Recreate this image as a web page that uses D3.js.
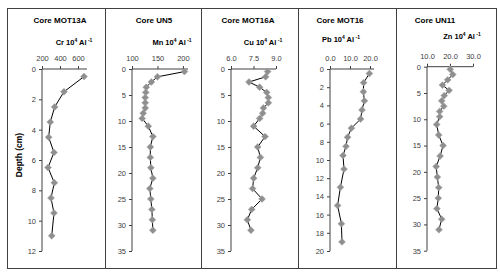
<!DOCTYPE html>
<html><head><meta charset="utf-8">
<script src="https://cdn.jsdelivr.net/npm/d3@7"></script>
<style>
body{margin:0;background:#fff}
svg{display:block}
text{font-family:"Liberation Sans",Arial,sans-serif}
</style>
</head><body>
<svg id="c" width="500" height="275"></svg>
<script>
// ---- data ----
const coreNames = ["Core MOT13A","Core UN5","Core MOT16A","Core MOT16","Core UN11"];
const elements = ["Cr","Mn","Cu","Pb","Zn"];

const crDepth = [0.5,1.5,2.5,3.5,4.5,5.5,6.5,7.5,8.5,9.5,11];
const crValues = [667,444,341,292,274,333,267,337,300,333,308];

const mnDepth = [0.5,1.5,2.5,3.5,4.5,5.5,6.5,7.5,8.5,9.5,11,13,15,17,19,21,23,25,27,29,31];
const mnValues = [203,150,138,128,127,126,126,126,122,120,132,141,136,136,137,141,135,137,139,140,141];

const cuDepth = [0.5,1.5,2.5,3.5,4.5,5.5,6.5,7.5,8.5,9.5,11,13,15,17,19,21,23,25,27,29,31];
const cuValues = [8.44,8.31,7.2,7.91,8.38,8.49,8.49,8.16,8.11,7.91,7.51,8.27,7.78,7.96,7.78,7.51,7.44,8.07,7.38,7.09,7.33];

const pbDepth = [0.5,1.5,2.5,3.5,4.5,5.5,6.5,7.5,8.5,9.5,11,13,15,17,19];
const pbValues = [19.7,16.8,16.7,17.2,16.0,15.3,10.7,8.8,8.0,6.5,7.0,5.2,3.8,5.7,6.0];

const znDepth = [0.5,1.5,2.5,3.5,4.5,5.5,6.5,7.5,8.5,9.5,11,13,15,17,19,21,23,25,27,29,31];
const znValues = [20.1,21.2,19.0,16.7,19.6,17.5,16.4,17.3,15.5,15.5,14.2,15.1,17.0,15.7,14.0,14.5,15.1,14.9,14.3,16.4,15.2];

const crTicks = [200,400,600];
const mnTicks = [100,150,200];
const cuTicks = [6.0,7.5,9.0];
const pbTicks = [0,10,20];
const znTicks = [10,20,30];

const depthTicks12 = [0,2,4,6,8,10,12];
const depthTicks20 = [0,2,4,6,8,10,12,14,16,18,20];
const depthTicks35 = [0,5,10,15,20,25,30,35];

// ---- layout ----
const panels = [
  {name:coreNames[0], el:elements[0], depth:crDepth, vals:crValues, xt:crTicks, xd:[200,700], fmt:d3.format("d"),
   yt:depthTicks12, xr:[42,87], yr:[69,251], tY:22.5, aY:44.5, aX:74, depthTitle:true},
  {name:coreNames[1], el:elements[1], depth:mnDepth, vals:mnValues, xt:mnTicks, xd:[100,210], fmt:d3.format("d"),
   yt:depthTicks35, xr:[132,188], yr:[69,251], tY:22.5, aY:44.5, aX:172},
  {name:coreNames[2], el:elements[2], depth:cuDepth, vals:cuValues, xt:cuTicks, xd:[6,9], fmt:d3.format(".1f"),
   yt:depthTicks35, xr:[231,276], yr:[69,251], tY:22.5, aY:44.5, aX:263},
  {name:coreNames[3], el:elements[3], depth:pbDepth, vals:pbValues, xt:pbTicks, xd:[0,22], fmt:d3.format(".1f"),
   yt:depthTicks20, xr:[330,374], yr:[69,251], tY:22.5, aY:41.5, aX:341},
  {name:coreNames[4], el:elements[4], depth:znDepth, vals:znValues, xt:znTicks, xd:[10,30], fmt:d3.format(".1f"),
   yt:depthTicks35, xr:[427,473], yr:[66.7,250.7], tY:22.5, aY:38.5, aX:462}
];
const titleX = [60, 154, 248, 340, 435];

const svg = d3.select("#c");
svg.append("rect").attr("width",500).attr("height",275).attr("fill","#fff");

// frame
svg.append("rect").attr("x",7.5).attr("y",8.5).attr("width",489).attr("height",260)
  .attr("fill","none").attr("stroke","#404040").attr("stroke-width",1);
[105,201,298,396].forEach(x=>{
  svg.append("line").attr("x1",x+0.5).attr("x2",x+0.5).attr("y1",8.5).attr("y2",268.5)
    .attr("stroke","#404040").attr("stroke-width",1);
});

const textCol = "#404040";

panels.forEach((p,i)=>{
  const x = d3.scaleLinear().domain(p.xd).range(p.xr);
  const y = d3.scaleLinear().domain([0, p.yt[p.yt.length-1]]).range(p.yr);
  const g = svg.append("g");

  // titles
  g.append("text").attr("x",titleX[i]).attr("y",p.tY).attr("text-anchor","middle")
    .attr("font-size",8).attr("font-weight","bold").attr("fill","#000").text(p.name);

  const at = g.append("text").attr("x",p.aX).attr("y",p.aY).attr("text-anchor","middle")
    .attr("font-size",7.5).attr("font-weight","bold").attr("fill","#000");
  at.append("tspan").text(p.el + " 10");
  at.append("tspan").attr("font-size",5).attr("dy",-3).text("4");
  at.append("tspan").attr("dy",3).text(" Al");
  at.append("tspan").attr("font-size",5).attr("dy",-3).text(" -1");

  // axes
  const ax = g.append("g").attr("transform",`translate(0,${p.yr[0]})`)
    .call(d3.axisTop(x).tickValues(p.xt).tickSize(3).tickSizeOuter(0).tickPadding(5).tickFormat(p.fmt));
  const ay = g.append("g").attr("transform",`translate(${p.xr[0]},0)`)
    .call(d3.axisLeft(y).tickValues(p.yt).tickSize(3).tickSizeOuter(0).tickPadding(3));
  [ax,ay].forEach(a=>{
    a.select(".domain").attr("stroke","#404040");
    a.selectAll(".tick line").attr("stroke","#404040");
    a.selectAll(".tick text").attr("font-size",7.5).attr("fill",textCol).attr("font-family","Liberation Sans, Arial, sans-serif");
  });
  ax.select(".domain").attr("d",`M${p.xr[0]},0H${p.xr[1]}`);
  ay.select(".domain").attr("d",`M0,${p.yr[0]}V${p.yr[1]}`);

  const pts = p.depth.map((d,k)=>[p.vals[k], d]);
  g.append("path").datum(pts)
    .attr("d", d3.line().x(d=>x(d[0])).y(d=>y(d[1])))
    .attr("fill","none").attr("stroke","#000").attr("stroke-width",1);

  g.selectAll(".m").data(pts).enter().append("path")
    .attr("transform",d=>`translate(${x(d[0])},${y(d[1])}) rotate(45)`)
    .attr("d", d3.symbol(d3.symbolSquare, 24)())
    .attr("fill","#8f8f8f").attr("stroke","#a6a6a6").attr("stroke-width",0.5);

  if (p.depthTitle) {
    g.append("text").attr("transform","translate(22,155) rotate(-90)")
      .attr("text-anchor","middle").attr("font-size",8.5).attr("font-weight","bold")
      .attr("fill","#000").text("Depth (cm)");
  }
});
</script>
</body></html>
